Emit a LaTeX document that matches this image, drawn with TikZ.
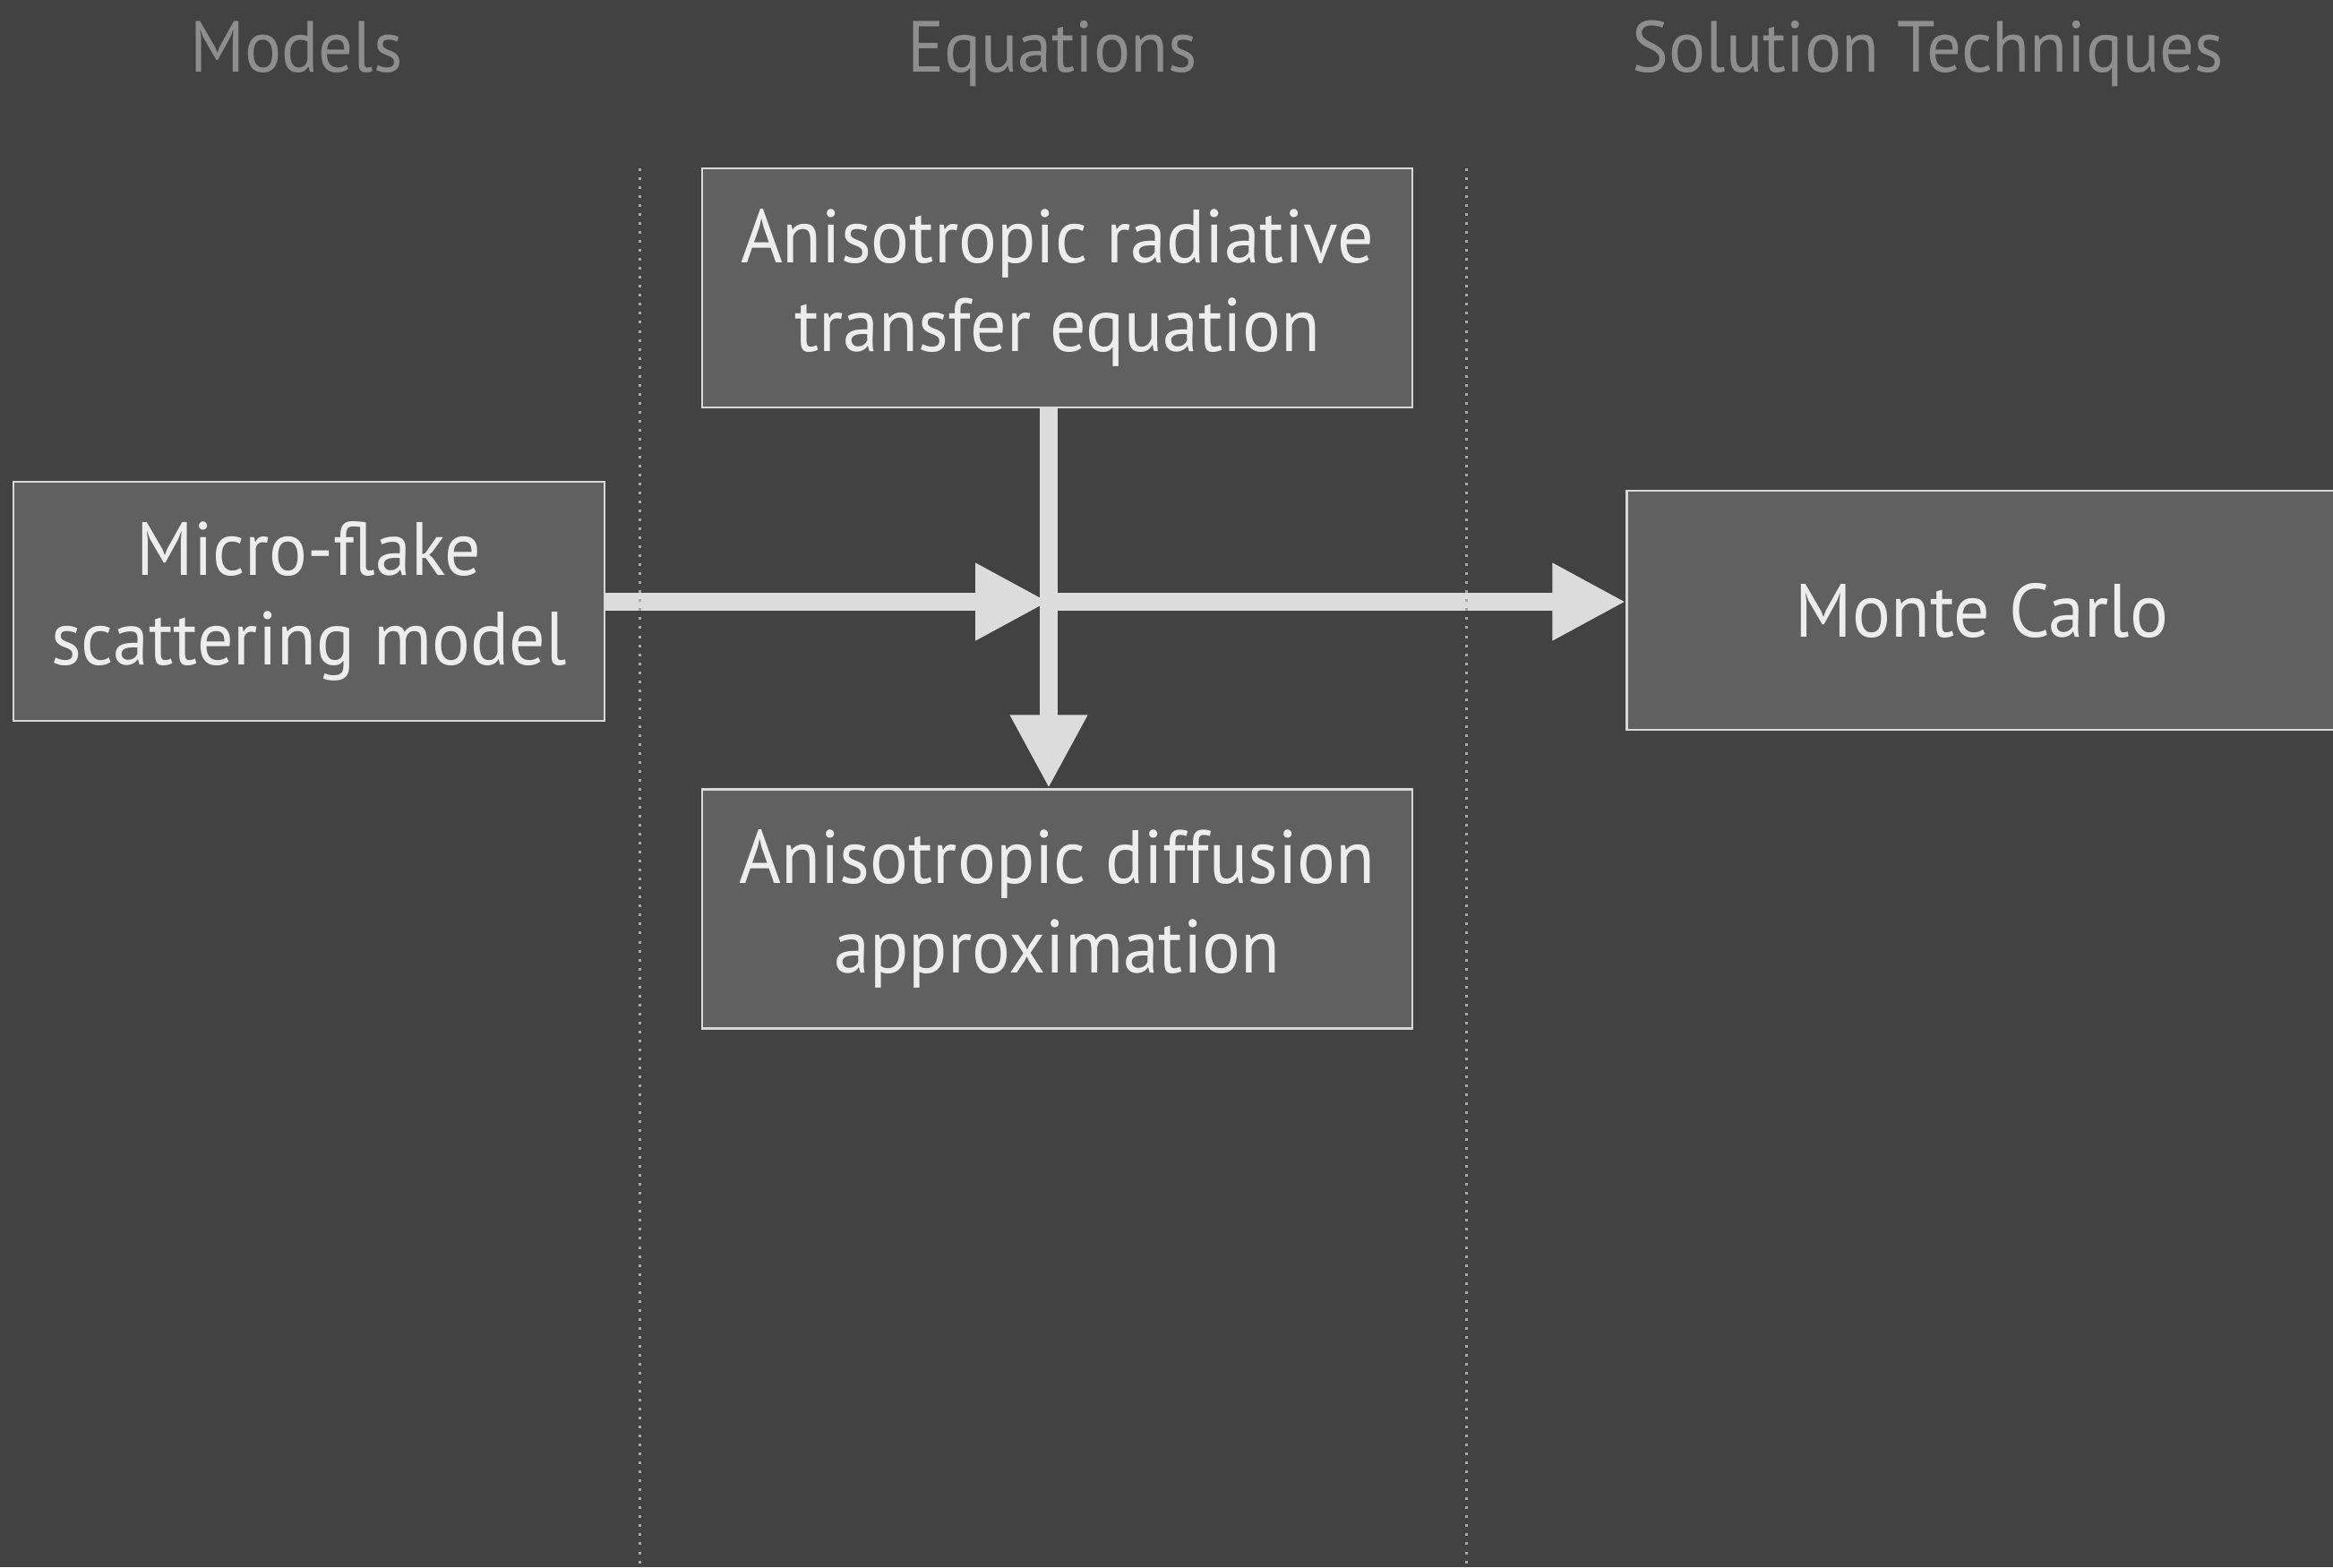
\documentclass[tikz,border=0pt]{standalone}
\usepackage{fontspec}
\setmainfont{PT Sans}[FakeStretch=0.95]
\usetikzlibrary{positioning, arrows.meta}

\definecolor{slidebg}{HTML}{424242}
\definecolor{boxfill}{HTML}{606060}
\definecolor{boxline}{HTML}{D8D8D8}
\definecolor{boxtext}{HTML}{EDEDED}
\definecolor{headtext}{HTML}{8E8E8E}
\definecolor{flowgray}{HTML}{DCDCDC}
\definecolor{divider}{HTML}{A8A8A8}

\begin{document}
\begin{tikzpicture}[
    box/.style={draw=boxline, line width=0.25mm, fill=boxfill, text=boxtext,
                minimum width=7.93cm, minimum height=2.67cm, align=center,
                inner sep=0pt, font=\fontsize{24}{28.4}\selectfont},
    heading/.style={text=headtext, anchor=base, font=\fontsize{23}{28}\selectfont},
    flow/.style={draw=flowgray, line width=2mm,
                 -{Triangle[length=8.2mm, width=8.1mm]}},
    divide/.style={draw=divider, line width=0.3mm, dotted}]

    % Background and page size
    \fill[slidebg] (0,0) rectangle (26.05,-17.5);
    \useasboundingbox (0,0) rectangle (26.05,-17.5);

    % Column headings
    \node[heading] (hmodels) at (3.31,-0.81)  {Models};
    \node[heading] (heqs)    at (11.75,-0.81) {Equations};
    \node[heading] (hsolve)  at (21.53,-0.81) {Solution Techniques};

    % Add the boxes
    \node[box]                      (art)    at (11.805,-3.215) {Anisotropic radiative\\transfer equation};
    \node[box, below=4.24cm of art] (diff)   {Anisotropic diffusion\\approximation};
    \node[box, minimum width=6.6cm] (micro)  at (3.45,-6.715) {Micro-flake\\scattering model};
    \node[box]                      (mc)     at (22.13,-6.815) {Monte Carlo};
    \coordinate (join) at (11.71,-6.72);

    % Connect the boxes with arrows
    \draw[flow] (micro.east |- join) -- (join);
    \draw[flow] (join) -- (join -| mc.west);
    \draw[flow] (art.south -| join) -- (diff.north -| join);

    % Column dividers
    \coordinate (cut1) at (7.14,-1.88);
    \coordinate (cut2) at (16.37,-1.88);
    \draw[divide] (cut1) -- (cut1 |- 0,-17.5);
    \draw[divide] (cut2) -- (cut2 |- 0,-17.5);
\end{tikzpicture}
\end{document}
